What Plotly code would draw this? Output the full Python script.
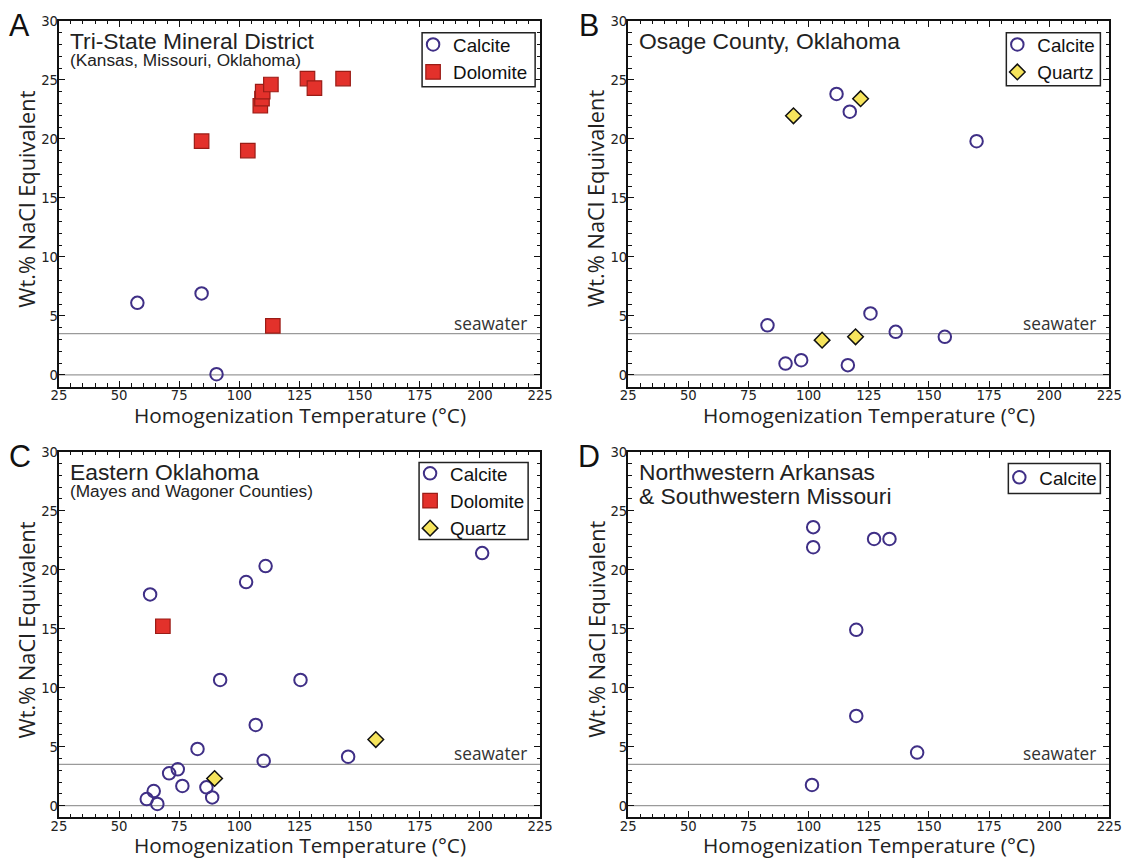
import plotly.graph_objects as go

W, H = 1131, 863

# ---------------- data ----------------
# Panel A: Tri-State Mineral District
a_calcite_t = [57.6, 84.3, 90.5]
a_calcite_s = [6.1, 6.9, 0.05]
a_dolomite_t = [84.3, 103.5, 108.7, 109.4, 109.7, 113.1, 128.3, 131.2, 143.1, 113.9]
a_dolomite_s = [19.8, 19.0, 22.8, 23.4, 24.0, 24.6, 25.1, 24.3, 25.1, 4.15]

# Panel B: Osage County, Oklahoma
b_calcite_t = [111.6, 117.1, 169.8, 82.9, 90.4, 96.9, 116.3, 125.7, 136.2, 156.6]
b_calcite_s = [23.8, 22.3, 19.8, 4.2, 0.96, 1.24, 0.82, 5.2, 3.64, 3.22]
b_quartz_t = [93.7, 121.6, 105.6, 119.5]
b_quartz_s = [21.95, 23.4, 2.94, 3.22]

# Panel C: Eastern Oklahoma
c_calcite_t = [62.9, 102.8, 110.9, 200.9, 92.0, 125.4, 106.8, 82.6, 110.1, 145.2,
               70.8, 74.4, 76.3, 61.5, 64.4, 65.9, 86.3, 88.7]
c_calcite_s = [17.9, 18.95, 20.3, 21.4, 10.65, 10.65, 6.84, 4.8, 3.8, 4.15,
               2.74, 3.08, 1.67, 0.56, 1.24, 0.14, 1.55, 0.7]
c_dolomite_t = [68.2]
c_dolomite_s = [15.2]
c_quartz_t = [89.7, 156.7]
c_quartz_s = [2.3, 5.6]

# Panel D: Northwestern Arkansas & Southwestern Missouri
d_calcite_t = [101.9, 101.9, 127.2, 133.6, 119.8, 119.8, 145.1, 101.4]
d_calcite_s = [23.6, 21.9, 22.6, 22.6, 14.9, 7.6, 4.5, 1.75]

SEAWATER = 3.5
X_RANGE = [25, 225]
Y_RANGE = [-1.0, 30]
X_TICKS = [25, 50, 75, 100, 125, 150, 175, 200, 225]
Y_TICKS = [0, 5, 10, 15, 20, 25, 30]

panel_letters = ["A", "B", "C", "D"]
panel_titles = [["Tri-State Mineral District"], ["Osage County, Oklahoma"],
                ["Eastern Oklahoma"], ["Northwestern Arkansas", "& Southwestern Missouri"]]
panel_subtitles = ["(Kansas, Missouri, Oklahoma)", "", "(Mayes and Wagoner Counties)", ""]
x_title = "Homogenization Temperature (°C)"
y_title = "Wt.% NaCl Equivalent"

# ---------------- style ----------------
CALC_COLOR = "#3f2f86"
DOLO_FILL = "#e3312b"
DOLO_LINE = "#9a1c16"
QTZ_FILL = "#f6e45c"
SANS = "Liberation Sans, Arial, sans-serif"
COND = "DejaVu Sans Condensed, Liberation Sans Narrow, sans-serif"
HUMAN = "Open Sans, Lato, sans-serif"

# the photographed page is offset and slightly scaled relative to the figure;
# layout targets below are given in photo pixels and mapped back here.
SX, OX, SY, OY = 0.981, 8.1, 0.990, 8.2
FS = 1.015


def px(x):
    return ((x - OX) / SX) / W


def py(y):
    return 1 - ((y - OY) / SY) / H


def f(size):
    return size * FS


# frames in photo pixel coordinates (left, right, top, bottom)
frames = [(59, 540, 20, 386), (628, 1109, 20, 386),
          (59, 540, 451, 817), (628, 1109, 451, 817)]
# legend boxes (left, right, top, bottom) and first-entry centre
legend_boxes = [(422, 535, 32, 86), (1006, 1100, 32, 85),
                (419, 528, 462, 539), (1008, 1100, 463, 493)]
legend_first = [45, 45, 474, 478]

fig = go.Figure()


def calcite(t, s, k, leg):
    return go.Scatter(x=t, y=s, mode="markers", name="Calcite",
                      xaxis=f"x{k}", yaxis=f"y{k}", legend=leg,
                      marker=dict(symbol="circle-open", size=12.5, color=CALC_COLOR,
                                  line=dict(width=2, color=CALC_COLOR)),
                      cliponaxis=False)


def dolomite(t, s, k, leg):
    return go.Scatter(x=t, y=s, mode="markers", name="Dolomite",
                      xaxis=f"x{k}", yaxis=f"y{k}", legend=leg,
                      marker=dict(symbol="square", size=14.5, color=DOLO_FILL,
                                  line=dict(width=1.2, color=DOLO_LINE)))


def quartz(t, s, k, leg):
    return go.Scatter(x=t, y=s, mode="markers", name="Quartz",
                      xaxis=f"x{k}", yaxis=f"y{k}", legend=leg,
                      marker=dict(symbol="diamond", size=12, color=QTZ_FILL,
                                  line=dict(width=1.5, color="#111111")))


fig.add_trace(calcite(a_calcite_t, a_calcite_s, "", "legend"))
fig.add_trace(dolomite(a_dolomite_t, a_dolomite_s, "", "legend"))
fig.add_trace(calcite(b_calcite_t, b_calcite_s, "2", "legend2"))
fig.add_trace(quartz(b_quartz_t, b_quartz_s, "2", "legend2"))
fig.add_trace(calcite(c_calcite_t, c_calcite_s, "3", "legend3"))
fig.add_trace(dolomite(c_dolomite_t, c_dolomite_s, "3", "legend3"))
fig.add_trace(quartz(c_quartz_t, c_quartz_s, "3", "legend3"))
fig.add_trace(calcite(d_calcite_t, d_calcite_s, "4", "legend4"))

layout = dict(width=W, height=H, margin=dict(l=0, r=0, t=0, b=0),
              paper_bgcolor="white", plot_bgcolor="white", showlegend=True)

annotations = []
shapes = []
for i, (l, r, t, b) in enumerate(frames):
    k = "" if i == 0 else str(i + 1)
    common = dict(ticks="inside", ticklen=6, tickwidth=1.3, tickcolor="#111",
                  showline=True, linewidth=2, linecolor="#111", mirror="allticks",
                  showgrid=False, zeroline=False,
                  tickfont=dict(family=COND, size=f(14.5), color="#222"))
    layout[f"xaxis{k}"] = dict(domain=[px(l), px(r)], range=X_RANGE, tickvals=X_TICKS,
                               ticklabelstandoff=-6,
                               minor=dict(ticks="inside", dtick=5, ticklen=3.5,
                                          tickwidth=1.1, tickcolor="#111", showgrid=False),
                               anchor=f"y{k}", **common)
    layout[f"yaxis{k}"] = dict(domain=[py(b), py(t)], range=Y_RANGE, tickvals=Y_TICKS,
                               ticklabelstandoff=-4,
                               minor=dict(ticks="inside", dtick=1, ticklen=3.5,
                                          tickwidth=1.1, tickcolor="#111", showgrid=False),
                               anchor=f"x{k}", **common)

    for yv in (0, SEAWATER):
        shapes.append(dict(type="line", xref=f"x{k} domain", yref=f"y{k}",
                           x0=0, x1=1, y0=yv, y1=yv, layer="below",
                           line=dict(color="#9a9a9a", width=1.2)))
    annotations.append(dict(text="seawater", xref=f"x{k} domain", yref=f"y{k}",
                            x=0.976, y=SEAWATER, xanchor="right", yanchor="bottom",
                            showarrow=False, yshift=-3,
                            font=dict(family=HUMAN, size=f(17), color="#333")))
    # axis titles
    annotations.append(dict(text=x_title, xref="paper", yref="paper",
                            x=px((l + r) / 2), y=py(b + 28), xanchor="center",
                            yanchor="middle", showarrow=False,
                            font=dict(family=HUMAN, size=f(20.5), color="#222")))
    annotations.append(dict(text=y_title, xref="paper", yref="paper", textangle=-90,
                            x=px(l - 32), y=py(t + 178), xanchor="center",
                            yanchor="middle", showarrow=False,
                            font=dict(family=HUMAN, size=f(21.5), color="#222")))
    # panel letter
    annotations.append(dict(text=panel_letters[i], xref="paper", yref="paper",
                            x=px(l - 39), y=py(t + 4), xanchor="center", yanchor="middle",
                            showarrow=False,
                            font=dict(family=SANS, size=f(30), color="#111")))
    # title lines
    for j, line in enumerate(panel_titles[i]):
        annotations.append(dict(text=line, xref="paper", yref="paper",
                                x=px(l + 9), y=py(t + 20 + 24.5 * j), xanchor="left",
                                yanchor="middle", showarrow=False,
                                font=dict(family=SANS, size=f(22.5), color="#222")))
    if panel_subtitles[i]:
        annotations.append(dict(text=panel_subtitles[i], xref="paper", yref="paper",
                                x=px(l + 9), y=py(t + 39), xanchor="left",
                                yanchor="middle", showarrow=False,
                                font=dict(family=SANS, size=f(17), color="#222")))

    # legend frame and legend
    bl, br, bt, bb = legend_boxes[i]
    shapes.append(dict(type="rect", xref="paper", yref="paper",
                       x0=px(bl), x1=px(br), y0=py(bb), y1=py(bt), layer="above",
                       line=dict(color="#222", width=1.5), fillcolor="white"))
    key = "legend" if i == 0 else f"legend{i + 1}"
    layout[key] = dict(x=px(bl - 9), y=py(legend_first[i] - 20),
                       xanchor="left", yanchor="top",
                       borderwidth=0, bgcolor="rgba(0,0,0,0)",
                       font=dict(family=SANS, size=f(18.5), color="#111"),
                       itemwidth=30, tracegroupgap=0, itemclick=False,
                       itemdoubleclick=False)

layout["annotations"] = annotations
layout["shapes"] = shapes
fig.update_layout(**layout)

fig.write_html("out.html")
